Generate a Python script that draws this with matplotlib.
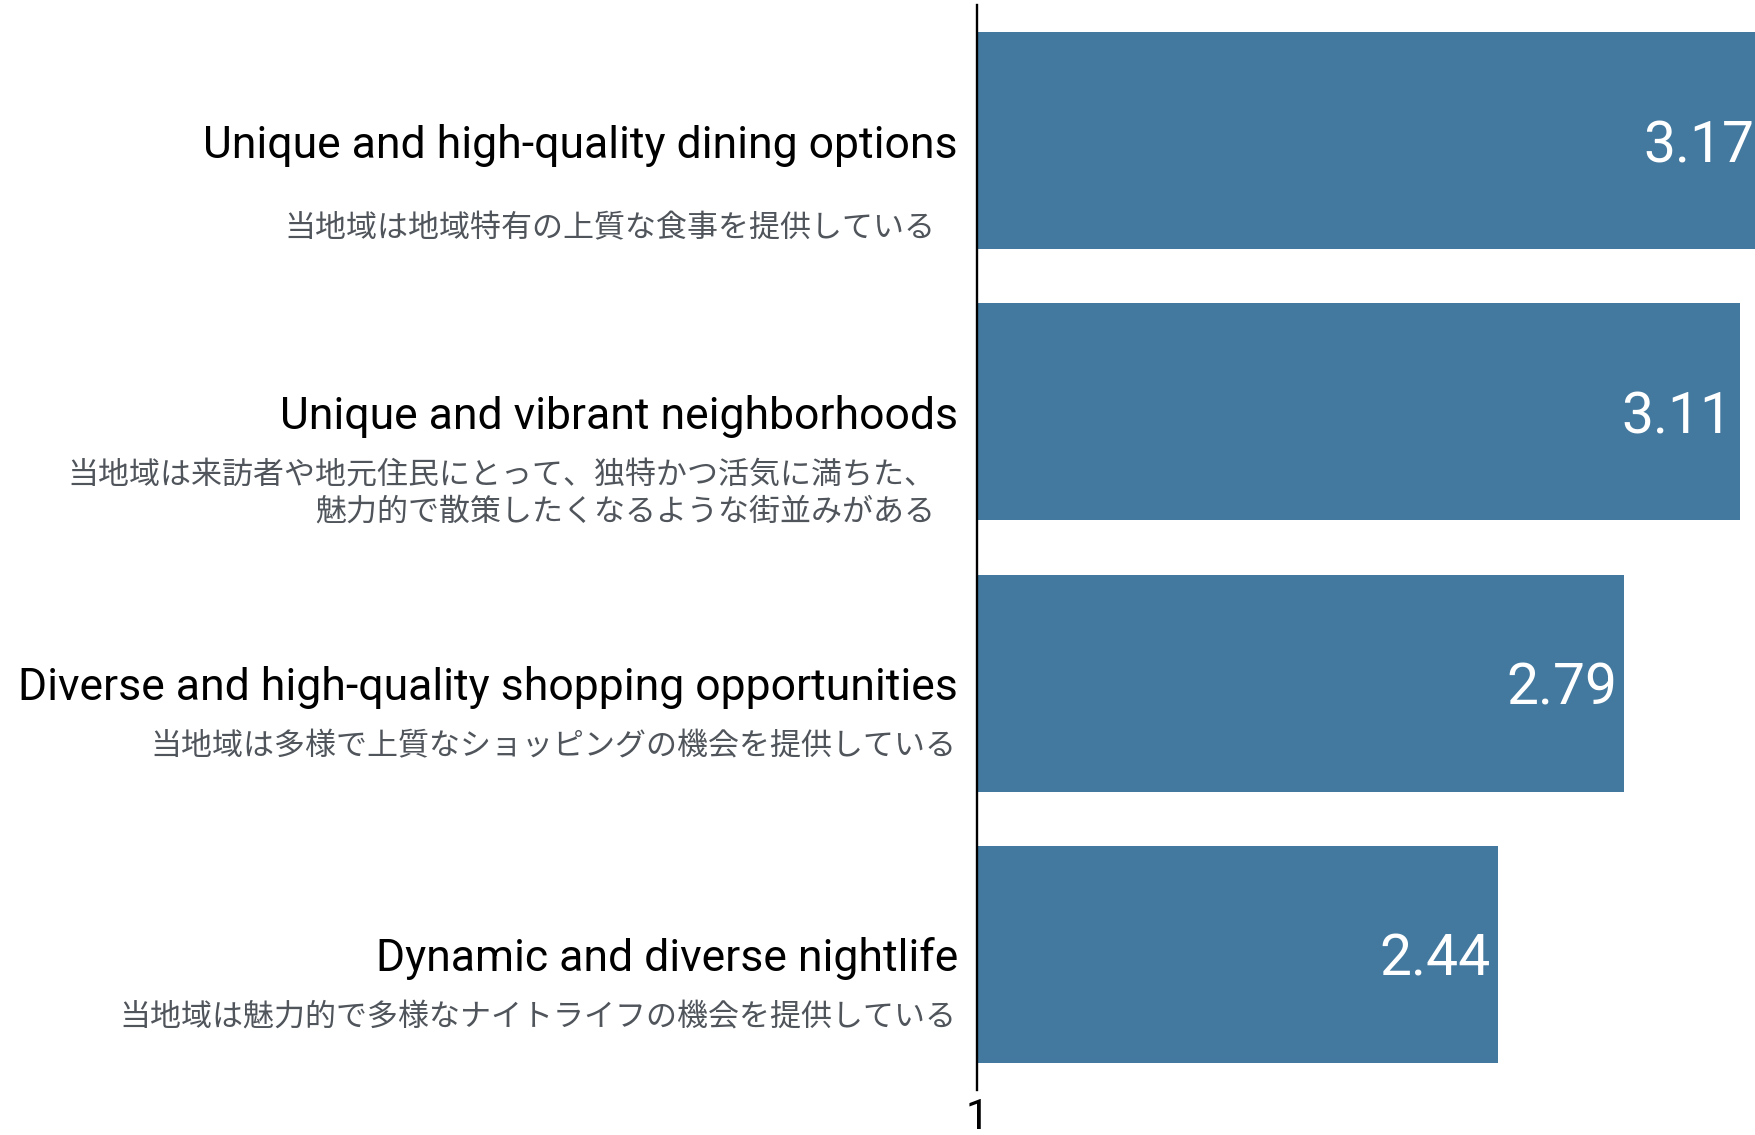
import matplotlib
matplotlib.use("Agg")
import matplotlib.pyplot as plt

# --------------------------------------
# DATA
# --------------------------------------
labels_en = [
    "Unique and high-quality dining options",
    "Unique and vibrant neighborhoods",
    "Diverse and high-quality shopping opportunities",
    "Dynamic and diverse nightlife",
]
labels_jp = [
    "当地域は地域特有の上質な食事を提供している",
    "当地域は来訪者や地元住民にとって、独特かつ活気に満ちた、\n魅力的で散策したくなるような街並みがある",
    "当地域は多様で上質なショッピングの機会を提供している",
    "当地域は魅力的で多様なナイトライフの機会を提供している",
]
scores = [3.17, 3.11, 2.79, 2.44]

# layout tweaks for the japanese sub-labels (pixels)
jp_dx = [-42, -42, -21, -21]
jp_dy = [-88, -82, -64, -64]

BAR_COLOR = "#44799f"
JP_COLOR = "#50555c"
EN_FONT = ["Roboto", "DejaVu Sans"]
JP_FONT = ["Noto Sans CJK JP", "DejaVu Sans"]

# --------------------------------------
# FIGURE
# --------------------------------------
fig = plt.figure(figsize=(17.55, 11.35), dpi=100)
ax = fig.add_axes([977 / 1755, 45 / 1135, 1 - 977 / 1755, 1085 / 1135])

ypos = list(range(len(scores)))
ax.barh(ypos, [s - 1 for s in scores], left=1, height=0.8, color=BAR_COLOR)

ax.set_xlim(1, 3.152)
ax.set_ylim(len(scores) - 0.5, -0.5)

for sp in ["top", "right", "bottom"]:
    ax.spines[sp].set_visible(False)
ax.spines["left"].set_linewidth(1.7)
ax.spines["left"].set_color("black")

ax.set_yticks([])
ax.set_xticks([1])
ax.set_xticklabels(["1"], fontsize=30, family=EN_FONT)
ax.tick_params(axis="x", length=0, pad=5)

for i, (en, jp, s) in enumerate(zip(labels_en, labels_jp, scores)):
    ax.annotate(en, xy=(1, i), xytext=(-19, -17), textcoords="offset pixels",
                ha="right", va="baseline", fontsize=32, family=EN_FONT,
                color="black", annotation_clip=False)
    ax.annotate(jp, xy=(1, i), xytext=(jp_dx[i], jp_dy[i]), textcoords="offset pixels",
                ha="right", va="center", multialignment="right", linespacing=1.2,
                fontsize=22.3, family=JP_FONT, color=JP_COLOR, annotation_clip=False)
    ax.annotate(f"{s:.2f}", xy=(s, i), xytext=(-7, -6), textcoords="offset pixels",
                ha="right", va="center", fontsize=41, family=EN_FONT,
                color="white", annotation_clip=False)

fig.savefig("out.png", dpi=100)
